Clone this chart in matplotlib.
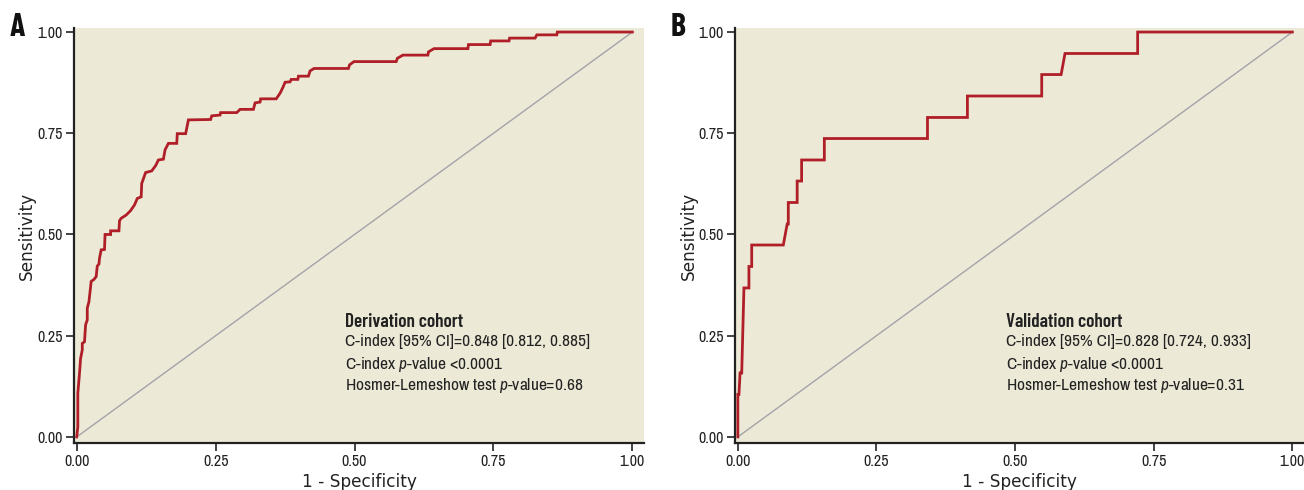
import matplotlib
matplotlib.use('Agg')
import matplotlib.pyplot as plt

plt.rcParams['font.family'] = ['Archivo Narrow', 'Liberation Sans Narrow', 'DejaVu Sans']
plt.rcParams['mathtext.fontset'] = 'custom'
plt.rcParams['mathtext.rm'] = 'Archivo Narrow'
plt.rcParams['mathtext.it'] = 'Archivo Narrow:italic'
bold_family = ['Barlow Condensed', 'DejaVu Sans']

# ROC curve A (derivation cohort)
fpr_a = [0.000, 0.000, 0.002, 0.002, 0.005, 0.007, 0.010, 0.010, 0.014, 0.016,
         0.019, 0.019, 0.022, 0.025, 0.026, 0.031, 0.035, 0.037, 0.040, 0.041,
         0.044, 0.050, 0.051, 0.061, 0.061, 0.076, 0.077, 0.080, 0.089, 0.097,
         0.104, 0.109, 0.116, 0.117, 0.124, 0.135, 0.142, 0.147, 0.156, 0.159,
         0.165, 0.180, 0.181, 0.196, 0.201, 0.241, 0.243, 0.258, 0.259, 0.288,
         0.294, 0.318, 0.321, 0.330, 0.331, 0.359, 0.366, 0.371, 0.375, 0.384,
         0.386, 0.398, 0.399, 0.417, 0.420, 0.427, 0.489, 0.491, 0.499, 0.575,
         0.577, 0.587, 0.632, 0.633, 0.643, 0.704, 0.705, 0.744, 0.745, 0.778,
         0.779, 0.825, 0.828, 0.864, 0.865, 1.000]
tpr_a = [0.000, 0.000, 0.025, 0.108, 0.157, 0.194, 0.215, 0.231, 0.235, 0.277,
         0.289, 0.318, 0.334, 0.371, 0.384, 0.389, 0.396, 0.422, 0.427, 0.441,
         0.462, 0.463, 0.500, 0.500, 0.509, 0.509, 0.534, 0.540, 0.548, 0.559,
         0.573, 0.589, 0.593, 0.626, 0.653, 0.657, 0.670, 0.684, 0.686, 0.709,
         0.725, 0.725, 0.749, 0.749, 0.783, 0.784, 0.793, 0.795, 0.801, 0.801,
         0.809, 0.809, 0.825, 0.827, 0.835, 0.835, 0.849, 0.863, 0.876, 0.877,
         0.883, 0.883, 0.891, 0.891, 0.904, 0.910, 0.910, 0.919, 0.927, 0.927,
         0.935, 0.943, 0.943, 0.951, 0.959, 0.959, 0.969, 0.969, 0.978, 0.978,
         0.985, 0.985, 0.993, 0.993, 1.000, 1.000]

# ROC curve B (validation cohort), 19 events
fpr_b = [0.000, 0.000, 0.002, 0.004, 0.007, 0.011, 0.020, 0.020, 0.025, 0.025,
         0.082, 0.089, 0.091, 0.091, 0.107, 0.107, 0.115, 0.115, 0.156, 0.156,
         0.342, 0.342, 0.414, 0.414, 0.548, 0.548, 0.583, 0.590, 0.721, 0.721,
         1.000]
tpr_b = [0.000, 0.105, 0.105, 0.158, 0.158, 0.368, 0.368, 0.421, 0.421, 0.474,
         0.474, 0.526, 0.526, 0.579, 0.579, 0.632, 0.632, 0.684, 0.684, 0.737,
         0.737, 0.789, 0.789, 0.842, 0.842, 0.895, 0.895, 0.947, 0.947, 1.000,
         1.000]

ticks = [0.00, 0.25, 0.50, 0.75, 1.00]
tick_labels = ['0.00', '0.25', '0.50', '0.75', '1.00']

panels = [
    ('A', fpr_a, tpr_a, 'Derivation cohort',
     ['C-index [95% CI]=0.848 [0.812, 0.885]',
      'C-index $p$-value <0.0001',
      'Hosmer-Lemeshow test $p$-value=0.68']),
    ('B', fpr_b, tpr_b, 'Validation cohort',
     ['C-index [95% CI]=0.828 [0.724, 0.933]',
      'C-index $p$-value <0.0001',
      'Hosmer-Lemeshow test $p$-value=0.31']),
]

bg = '#ECE9D6'
red = '#B01F28'
ink = '#222222'

fig = plt.figure(figsize=(13.04, 4.9), dpi=100)
rects = [[0.0567, 0.0959, 0.4372, 0.847], [0.5637, 0.0959, 0.4363, 0.847]]

for rect, (letter, fx, ty, title, lines) in zip(rects, panels):
    ax = fig.add_axes(rect)
    ax.set_facecolor(bg)
    ax.plot([0, 1], [0, 1], color='#A3A3AA', lw=1.0, zorder=2)
    ax.plot(fx, ty, color=red, lw=2.0, zorder=3, solid_joinstyle='miter')
    ax.set_xlim(-0.005, 1.021)
    ax.set_ylim(-0.015, 1.01)
    ax.set_xticks(ticks)
    ax.set_xticklabels(tick_labels)
    ax.set_yticks(ticks)
    ax.set_yticklabels(tick_labels)
    for s in ['top', 'right']:
        ax.spines[s].set_visible(False)
    for s in ['left', 'bottom']:
        ax.spines[s].set_linewidth(1.6)
        ax.spines[s].set_color(ink)
    ax.tick_params(length=6, width=1.2, color=ink, labelsize=11.5,
                   labelcolor=ink, pad=2)
    ax.set_xlabel('1 - Specificity', fontsize=12.2, color=ink,
                  family=['DejaVu Sans'])
    ax.set_ylabel('Sensitivity', fontsize=12.2, color=ink,
                  family=['DejaVu Sans'])
    ax.xaxis.set_label_coords(0.5, -0.073)
    ax.yaxis.set_label_coords(-0.066, 0.5)
    ax.text(0.483, 0.305, title, fontsize=13.8, fontweight='semibold',
            color=ink, va='top', family=bold_family)
    for i, line in enumerate(lines):
        ax.text(0.483, 0.255 - i * 0.052, line, fontsize=12.5, color=ink,
                va='top')
    ax.text(-0.113, 1.0, letter, transform=ax.transAxes, fontsize=23,
            fontweight='bold', color='#111111', va='center', ha='left',
            family=bold_family)

fig.savefig('out.png', dpi=100)
